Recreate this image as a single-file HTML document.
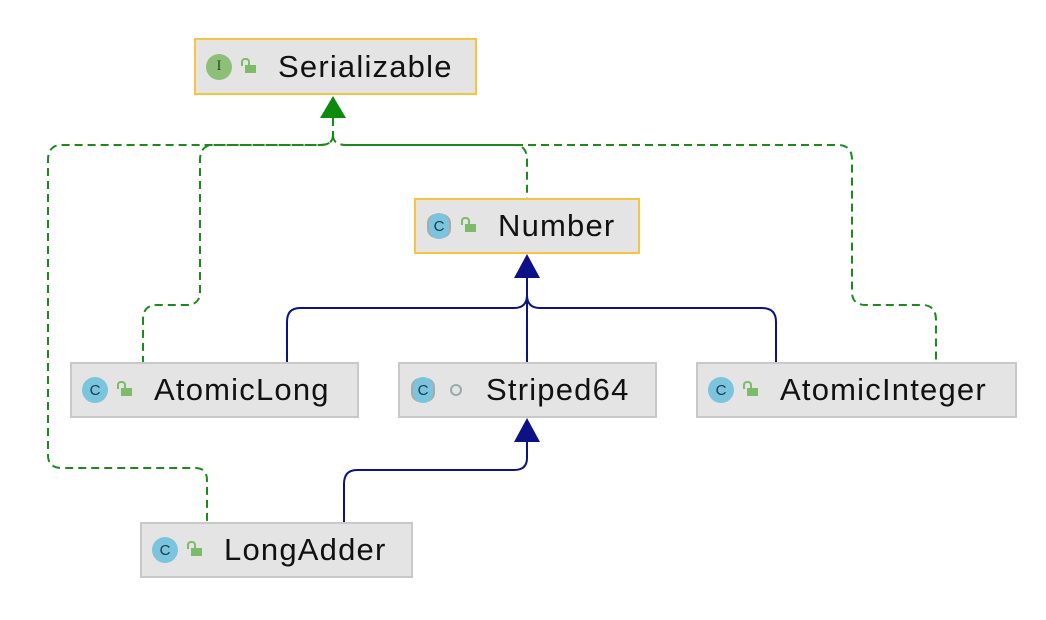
<!DOCTYPE html>
<html><head><style>
body{margin:0;width:1046px;height:620px;background:#fff;position:relative;font-family:"Liberation Sans",sans-serif;overflow:hidden}
.b{position:absolute;box-sizing:border-box;background:#e4e4e4;border:2px solid #c8c8c8;display:flex;align-items:center;font-size:31px;letter-spacing:1.2px;color:#111}
.y{border-color:#f5c542}
.ic{width:26px;height:26px;border-radius:50%;background:#7ac4de;color:#1a3a4a;font-size:15px;letter-spacing:0;display:flex;align-items:center;justify-content:center;margin-left:10px;flex:none}
.ab{box-shadow:-3px 0 0 -1px #aaa,3px 0 0 -1px #aaa;width:20px;border-radius:10px;margin-left:13px;margin-right:3px}
.ii{background:#8dbf79;color:#2d4a24;font-family:"Liberation Serif",serif}
.lk{width:14px;height:12px;margin:0 22px 0 10px;position:relative;flex:none}
.lk:before{content:"";position:absolute;left:3px;bottom:0;width:11px;height:8px;background:#7dbb6a}
.lk:after{content:"";position:absolute;left:-1px;top:-3px;width:5px;height:6px;border:2px solid #7dbb6a;border-bottom:none;border-radius:4px 4px 0 0}
.dot{width:8px;height:8px;border:2px solid #9aa;border-radius:50%;margin:0 24px 0 14px;flex:none}
</style></head><body>
<svg width="1046" height="620" style="position:absolute;left:0;top:0">
<g fill="none" stroke="#1a8a1a" stroke-width="2" stroke-dasharray="8,5">
<path d="M333 118 V135 Q333 145 320 145 H62 Q48 145 48 160 V455 Q48 468 62 468 H195 Q207 468 207 480 V522"/>
<path d="M333 135 Q333 145 320 145 H214 Q200 145 200 160 V292 Q200 305 186 305 H157 Q143 305 143 320 V362"/>
<path d="M333 135 Q333 145 346 145 H514 Q527 145 527 160 V198"/>
<path d="M346 145 H838 Q852 145 852 160 V292 Q852 305 866 305 H922 Q936 305 936 320 V362"/>
</g>
<polygon points="333,96 320,118 346,118" fill="#0c8a0c"/>
<g fill="none" stroke="#0c1285" stroke-width="2">
<path d="M527 278 V362"/>
<path d="M527 295 Q527 308 514 308 H300 Q287 308 287 322 V362"/>
<path d="M527 295 Q527 308 540 308 H762 Q776 308 776 322 V362"/>
<path d="M527 440 V458 Q527 470 514 470 H357 Q344 470 344 484 V522"/>
</g>
<polygon points="527,254 514,278 540,278" fill="#0c1285"/>
<polygon points="527,418 514,442 540,442" fill="#0c1285"/>
</svg>
<div class="b y" style="left:194px;top:38px;width:283px;height:57px"><div class="ic ii">I</div><div class="lk"></div>Serializable</div>
<div class="b y" style="left:414px;top:198px;width:226px;height:56px"><div class="ic ab">C</div><div class="lk"></div>Number</div>
<div class="b" style="left:70px;top:362px;width:289px;height:56px"><div class="ic">C</div><div class="lk"></div>AtomicLong</div>
<div class="b" style="left:398px;top:362px;width:259px;height:56px"><div class="ic ab">C</div><div class="dot"></div>Striped64</div>
<div class="b" style="left:696px;top:362px;width:321px;height:56px"><div class="ic">C</div><div class="lk"></div>AtomicInteger</div>
<div class="b" style="left:140px;top:522px;width:273px;height:56px"><div class="ic">C</div><div class="lk"></div>LongAdder</div>
</body></html>
